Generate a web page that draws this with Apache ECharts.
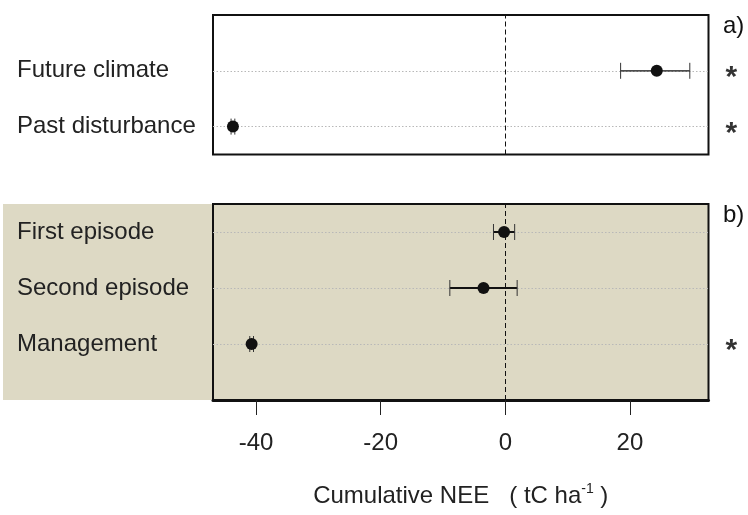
<!DOCTYPE html>
<html><head><meta charset="utf-8">
<script src="https://cdn.jsdelivr.net/npm/echarts@6/dist/echarts.min.js"></script>
<style>html,body{margin:0;padding:0;background:#fff}#c{width:748px;height:515px}</style>
</head><body><div id="c"></div>
<script>
// Panel a) rows listed bottom -> top (row index 1..n)
const topLabels = ['Past disturbance', 'Future climate'];
const topValues = [-43.7, 24.3];
const topLow = [-44.0, 18.5];
const topHigh = [-43.4, 29.6];
const topSig = [true, true];

// Panel b) rows listed bottom -> top
const botLabels = ['Management', 'Second episode', 'First episode'];
const botValues = [-40.7, -3.5, -0.2];
const botLow = [-41.0, -8.9, -1.9];
const botHigh = [-40.4, 1.9, 1.5];
const botSig = [true, false, false];

const xTicks = [-40, -20, 0, 20];
const xMin = -46.9, xMax = 32.6;

const FONT = "'Liberation Sans', Arial, Helvetica, sans-serif";
const BEIGE = '#DDD9C4';

function errRender(lw) {
  return function (params, api) {
    const lo = api.coord([api.value(0), api.value(2)]);
    const hi = api.coord([api.value(1), api.value(2)]);
    const h = 8;
    return {
      type: 'group', children: [
        { type: 'line', shape: { x1: lo[0], y1: lo[1], x2: hi[0], y2: hi[1] }, style: { stroke: '#111', lineWidth: lw } },
        { type: 'line', shape: { x1: lo[0], y1: lo[1] - h, x2: lo[0], y2: lo[1] + h }, style: { stroke: '#333', lineWidth: 1 } },
        { type: 'line', shape: { x1: hi[0], y1: hi[1] - h, x2: hi[0], y2: hi[1] + h }, style: { stroke: '#333', lineWidth: 1 } }
      ]
    };
  };
}

function gridLines(labels) {
  const d = labels.map((l, i) => ({ yAxis: i + 1, lineStyle: { color: '#b8b8b8', type: [1.5, 2], width: 1 } }));
  d.push({ xAxis: 0, lineStyle: { color: '#111', type: [5, 3], width: 1 } });
  return { silent: true, symbol: 'none', label: { show: false }, animation: false, z: 1, data: d };
}

function yAxisFor(idx, labels, min, max) {
  return {
    gridIndex: idx, type: 'value', min: min, max: max, interval: 0.5,
    axisLine: { show: false }, axisTick: { show: false }, splitLine: { show: false },
    axisLabel: {
      formatter: v => (Number.isInteger(v) && v >= 1 && v <= labels.length) ? labels[v - 1] : '',
      align: 'left', margin: 196, fontSize: 24, color: '#222', fontFamily: FONT, hideOverlap: false
    }
  };
}

function seriesFor(idx, labels, vals, lo, hi, sig, lw) {
  return [
    {
      type: 'scatter', xAxisIndex: idx, yAxisIndex: idx, symbolSize: 0, silent: true,
      data: [], z: 1, markLine: gridLines(labels)
    },
    {
      type: 'custom', xAxisIndex: idx, yAxisIndex: idx, renderItem: errRender(lw),
      encode: { x: [0, 1], y: 2 },
      data: lo.map((l, i) => [l, hi[i], i + 1]), z: 6
    },
    {
      type: 'scatter', xAxisIndex: idx, yAxisIndex: idx, symbol: 'circle', symbolSize: 12,
      itemStyle: { color: '#111', opacity: 1 }, data: vals.map((v, i) => [v, i + 1]), z: 7
    },
    {
      type: 'scatter', xAxisIndex: idx, yAxisIndex: idx, symbolSize: 0, clip: false,
      data: sig.map((s, i) => s ? [xMax, i + 1] : null).filter(d => d),
      label: { show: true, position: 'right', distance: 17, formatter: '*', fontSize: 30, color: '#000', fontWeight: 'bold', fontFamily: FONT, offset: [0, 7] },
      z: 8
    }
  ];
}

const chart = echarts.init(document.getElementById('c'), null, { renderer: 'canvas' });
chart.setOption({
  animation: false,
  backgroundColor: '#fff',
  textStyle: { fontFamily: FONT },
  graphic: [
    { type: 'rect', shape: { x: 3, y: 204, width: 212, height: 196 }, style: { fill: BEIGE }, z: -10 },
    { type: 'text', left: 723, top: 14, style: { text: 'a)', fontSize: 24, fill: '#111', fontFamily: FONT } },
    { type: 'text', left: 723, top: 203, style: { text: 'b)', fontSize: 24, fill: '#111', fontFamily: FONT } }
  ],
  grid: [
    { left: 213, right: 39.5, top: 15, height: 139.5, show: true, borderColor: '#111', borderWidth: 2, backgroundColor: 'transparent' },
    { left: 213, right: 39.5, top: 204, height: 196, show: true, borderColor: '#111', borderWidth: 2, backgroundColor: BEIGE }
  ],
  xAxis: [
    { gridIndex: 0, type: 'value', min: xMin, max: xMax, show: false },
    {
      gridIndex: 1, type: 'value', min: xMin, max: xMax,
      axisLine: { show: true, lineStyle: { color: '#111', width: 3 } },
      axisTick: { show: true, customValues: xTicks, length: 15, lineStyle: { color: '#222', width: 1 } },
      axisLabel: { customValues: xTicks, margin: 31, fontSize: 24, color: '#222', fontFamily: FONT },
      splitLine: { show: false },
      name: 'Cumulative NEE   ( tC ha{sup|-1} )', nameLocation: 'middle', nameGap: 82,
      nameTextStyle: { fontSize: 24, color: '#222', fontFamily: FONT, rich: { sup: { fontSize: 14, padding: [0, 0, 14, 0], color: '#222', fontFamily: FONT } } }
    }
  ],
  yAxis: [
    yAxisFor(0, topLabels, 0.5, 3),
    yAxisFor(1, botLabels, 0, 3.5)
  ],
  series: [].concat(
    seriesFor(0, topLabels, topValues, topLow, topHigh, topSig, 1.3),
    seriesFor(1, botLabels, botValues, botLow, botHigh, botSig, 2)
  )
});
</script></body></html>
